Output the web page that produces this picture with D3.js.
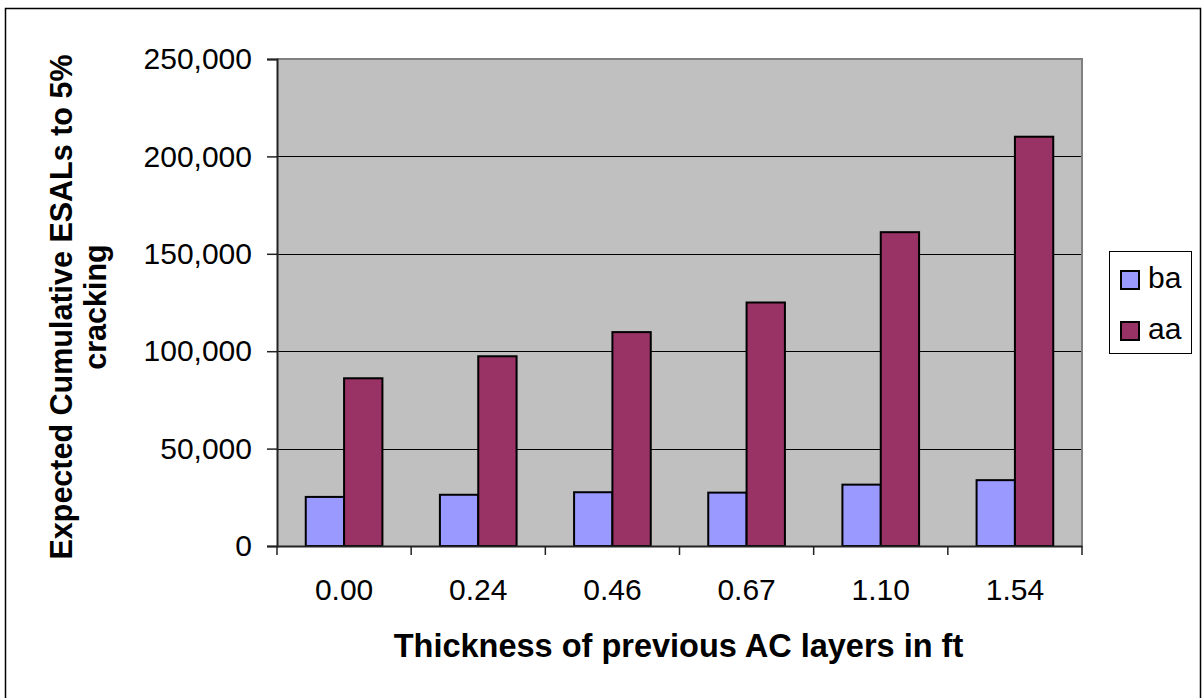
<!DOCTYPE html>
<html>
<head>
<meta charset="utf-8">
<script src="https://cdn.jsdelivr.net/npm/d3@7"></script>
<style>
  html, body { margin: 0; padding: 0; background: #fff; }
  svg { display: block; font-family: "Liberation Sans", Arial, sans-serif; }
</style>
</head>
<body>
<svg id="chart" width="1204" height="698"></svg>
<script>
// Thickness categories (ft) and expected cumulative ESALs to 5% cracking
const categories = ["0.00", "0.24", "0.46", "0.67", "1.10", "1.54"];
const seriesNames = ["ba", "aa"];
const baValues = [25200, 26300, 27600, 27400, 31500, 33800];
const aaValues = [86100, 97400, 109800, 125000, 161100, 210100];
const yTicks = [0, 50000, 100000, 150000, 200000, 250000];
const colors = { ba: "#9999FF", aa: "#993366" };

const rows = categories.map((c, i) => ({ cat: c, ba: baValues[i], aa: aaValues[i] }));

const FONT = "'Liberation Sans', Arial, sans-serif";
const svg = d3.select("#chart");
const plot = { left: 277, top: 59, right: 1082, bottom: 546 };

// Outer frame
svg.append("rect")
  .attr("x", 5.5).attr("y", 8.5).attr("width", 1195).attr("height", 700)
  .attr("fill", "#fff").attr("stroke", "#000").attr("stroke-width", 1.5);

const x = d3.scaleBand().domain(categories).range([plot.left, plot.right]).padding(0);
const barW = x.bandwidth() / 3.5;
const xs = d3.scaleBand().domain(seriesNames)
  .range([x.bandwidth() / 2 - barW, x.bandwidth() / 2 + barW]);
const y = d3.scaleLinear().domain([0, 250000]).range([plot.bottom, plot.top]);

// Plot background
svg.append("rect")
  .attr("x", plot.left).attr("y", plot.top)
  .attr("width", plot.right - plot.left).attr("height", plot.bottom - plot.top)
  .attr("fill", "#C0C0C0");

// Gridlines
svg.append("g").selectAll("line").data(yTicks.filter(t => t > 0 && t < 250000)).join("line")
  .attr("x1", plot.left).attr("x2", plot.right)
  .attr("y1", d => Math.round(y(d)) + 0.5).attr("y2", d => Math.round(y(d)) + 0.5)
  .attr("stroke", "#000").attr("stroke-width", 1);

// Plot border (top and right)
svg.append("path")
  .attr("d", `M${plot.left},${plot.top}H${plot.right}V${plot.bottom}`)
  .attr("fill", "none").attr("stroke", "#808080").attr("stroke-width", 2);

// Bars
const groups = svg.append("g").selectAll("g").data(rows).join("g")
  .attr("transform", d => `translate(${x(d.cat)},0)`);
groups.selectAll("rect").data(d => seriesNames.map(k => ({ key: k, value: d[k] }))).join("rect")
  .attr("x", d => xs(d.key)).attr("width", xs.bandwidth())
  .attr("y", d => y(d.value)).attr("height", d => y(0) - y(d.value))
  .attr("fill", d => colors[d.key]).attr("stroke", "#000").attr("stroke-width", 2);

// Y axis
const yAxis = svg.append("g").attr("transform", `translate(${plot.left},0)`)
  .call(d3.axisLeft(y).tickValues(yTicks).tickSize(10).tickPadding(15)
    .tickFormat(d3.format(",")));
yAxis.select(".domain").attr("stroke", "#222").attr("stroke-width", 2);
yAxis.selectAll(".tick line").attr("stroke", "#222").attr("stroke-width", 1.5);
yAxis.selectAll(".tick text").attr("font-size", 30).attr("fill", "#000")
  .attr("font-family", FONT);

// X axis
const xAxis = svg.append("g").attr("transform", `translate(0,${plot.bottom})`)
  .call(d3.axisBottom(x).tickSize(0).tickPadding(33));
xAxis.select(".domain").attr("stroke", "#222").attr("stroke-width", 2);
xAxis.selectAll(".tick text").attr("font-size", 30).attr("fill", "#000")
  .attr("font-family", FONT);
// Category separator ticks
svg.append("g").selectAll("line")
  .data(categories.map(c => x(c)).concat([plot.right])).join("line")
  .attr("x1", d => d).attr("x2", d => d)
  .attr("y1", plot.bottom).attr("y2", plot.bottom + 9)
  .attr("stroke", "#222").attr("stroke-width", 1.5);

// Axis titles
svg.append("text")
  .attr("x", 678.5).attr("y", 657)
  .attr("text-anchor", "middle").attr("font-size", 32.5).attr("font-weight", "bold")
  .text("Thickness of previous AC layers in ft");

const yTitle = svg.append("text")
  .attr("transform", "translate(0,307) rotate(-90)")
  .attr("text-anchor", "middle").attr("font-size", 30.5).attr("font-weight", "bold");
yTitle.append("tspan").attr("x", 0).attr("y", 72).text("Expected Cumulative ESALs to 5%");
yTitle.append("tspan").attr("x", 0).attr("y", 106).text("cracking");

// Legend
const legend = svg.append("g");
legend.append("rect")
  .attr("x", 1109.5).attr("y", 251.5).attr("width", 82).attr("height", 102)
  .attr("fill", "#fff").attr("stroke", "#000").attr("stroke-width", 1);
seriesNames.forEach((name, i) => {
  const cy = 280 + i * 51;
  legend.append("rect")
    .attr("x", 1121).attr("y", cy - 9).attr("width", 18).attr("height", 18)
    .attr("fill", colors[name]).attr("stroke", "#000").attr("stroke-width", 2);
  legend.append("text")
    .attr("x", 1148).attr("y", cy + 8)
    .attr("font-size", 30).text(name);
});
</script>
</body>
</html>
